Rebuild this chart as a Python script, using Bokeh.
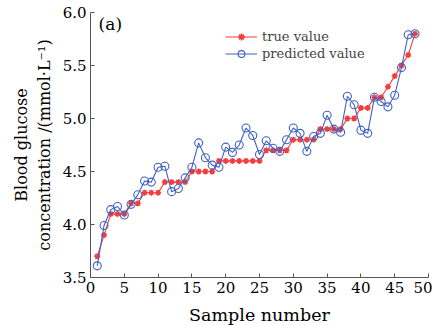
from bokeh.plotting import figure
from bokeh.embed import file_html
from bokeh.resources import INLINE
from bokeh.models import Label, Legend, LegendItem, FixedTicker, CustomJSTickFormatter

samples = list(range(1, 49))
true_value = [3.70, 3.90, 4.10, 4.10, 4.10, 4.20, 4.20, 4.30, 4.30, 4.30,
              4.40, 4.40, 4.40, 4.40, 4.50, 4.50, 4.50, 4.50, 4.60, 4.60,
              4.60, 4.60, 4.60, 4.60, 4.60, 4.70, 4.70, 4.70, 4.70, 4.80,
              4.80, 4.80, 4.80, 4.90, 4.90, 4.90, 4.90, 5.00, 5.00, 5.10,
              5.10, 5.20, 5.20, 5.30, 5.40, 5.50, 5.60, 5.80]
predicted_value = [3.61, 3.99, 4.14, 4.17, 4.09, 4.19, 4.28, 4.41, 4.40, 4.54,
                   4.55, 4.31, 4.34, 4.44, 4.54, 4.77, 4.63, 4.56, 4.54, 4.73,
                   4.68, 4.75, 4.91, 4.84, 4.66, 4.79, 4.72, 4.69, 4.80, 4.91,
                   4.86, 4.69, 4.83, 4.86, 5.03, 4.90, 4.87, 5.21, 5.13, 4.89,
                   4.86, 5.20, 5.16, 5.11, 5.22, 5.48, 5.79, 5.80]
x_ticks = [0, 5, 10, 15, 20, 25, 30, 35, 40, 45, 50]
y_ticks = [3.5, 4.0, 4.5, 5.0, 5.5, 6.0]

FONT = "DejaVu Serif"
RED = "#f53b3b"
BLUE = "#3f62c2"

p = figure(frame_width=338, frame_height=265, output_backend="svg", toolbar_location=None,
           x_range=(0, 50), y_range=(3.5, 6.0),
           min_border_left=90, min_border_right=4, min_border_top=12, min_border_bottom=48)
p.outline_line_color = None
p.grid.visible = False
p.background_fill_color = "white"

l1 = p.line(samples, true_value, color=RED, line_width=1.1)
s1 = p.scatter(samples, true_value, marker="asterisk", size=6, line_color=RED, line_width=1.5)
l2 = p.line(samples, predicted_value, color=BLUE, line_width=1.1)
s2 = p.scatter(samples, predicted_value, marker="circle", size=8, fill_color=None,
               line_color=BLUE, line_width=1.1)

legend = Legend(items=[LegendItem(label="true value", renderers=[l1, s1]),
                       LegendItem(label="predicted value", renderers=[l2, s2])],
                location=(135, 215), background_fill_alpha=0, border_line_color=None,
                label_text_font=FONT, label_text_font_size="13px",
                glyph_width=32, glyph_height=17, label_height=17,
                label_standoff=5, spacing=0, padding=0, margin=0)
p.add_layout(legend, "center")

for ax in (p.xaxis[0], p.yaxis[0]):
    ax.axis_line_color = "#555555"
    ax.major_tick_line_color = "#555555"
    ax.major_tick_in = 4
    ax.major_tick_out = 0
    ax.minor_tick_line_color = None
    ax.major_label_text_font = FONT
    ax.major_label_text_font_size = "15px"
    ax.major_label_text_color = "black"
    ax.axis_label_text_font = FONT
    ax.axis_label_text_font_style = "normal"
    ax.axis_label_text_color = "black"

p.xaxis.ticker = FixedTicker(ticks=x_ticks)
p.yaxis.ticker = FixedTicker(ticks=y_ticks)
p.yaxis.formatter = CustomJSTickFormatter(code="return tick.toFixed(1);")
p.xaxis.axis_label = "Sample number"
p.xaxis.axis_label_text_font_size = "17.5px"
p.xaxis.axis_label_standoff = 9
p.xaxis.major_label_standoff = 4
p.yaxis.axis_label = "Blood glucose\nconcentration /(mmol\u00b7L\u207b\u00b9)"
p.yaxis.axis_label_text_font_size = "16px"
p.yaxis.axis_label_standoff = 6
p.yaxis.major_label_standoff = 4

p.add_layout(Label(x=1.2, y=5.80, text="(a)", text_font=FONT, text_font_size="17px",
                   text_color="black"))

open("out.html", "w").write(file_html(p, INLINE))
